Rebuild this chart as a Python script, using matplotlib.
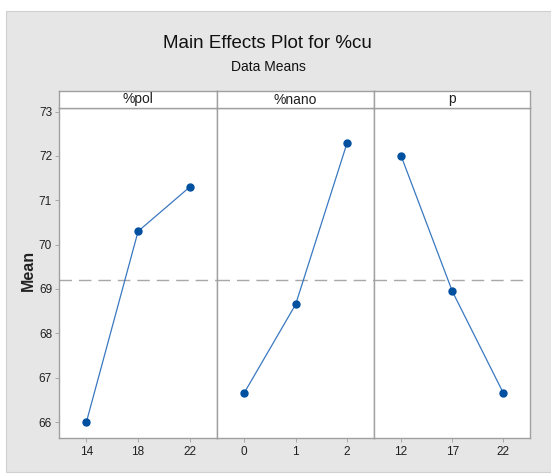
import matplotlib
matplotlib.use("Agg")
import matplotlib.pyplot as plt
from matplotlib.patches import Rectangle

# ---- data ----
factors = ["%pol", "%nano", "p"]
levels_pol = ["14", "18", "22"]
levels_nano = ["0", "1", "2"]
levels_p = ["12", "17", "22"]
means_pol = [66.0, 70.3, 71.3]
means_nano = [66.65, 68.65, 72.3]
means_p = [72.0, 68.95, 66.65]
grand_mean = 69.2
y_ticks = [66, 67, 68, 69, 70, 71, 72, 73]

levels = [levels_pol, levels_nano, levels_p]
means = [means_pol, means_nano, means_p]

W, H = 551, 475
fig = plt.figure(figsize=(W / 100, H / 100), dpi=100)
fig.patch.set_facecolor("white")
plt.rcParams['font.family'] = ['Liberation Sans Narrow', 'Liberation Sans', 'DejaVu Sans']

# gray background panel
fig.patches.append(Rectangle((6 / W, (H - 472) / H), (W - 6) / W, (472 - 11) / H,
                             transform=fig.transFigure, facecolor="#E6E6E6",
                             edgecolor="#D0D0D0", lw=0.8, zorder=-10))

def fx(px):
    return px / W

def fy(py):
    return (H - py) / H

plot_top, plot_bot = 108, 438
strip_top = 91
edges = [59, 216.7, 374, 530]
line_col = "#3A78C0"
mark_col = "#0050A0"
spine_col = "#A0A0A0"

ymin, ymax = 65.64, 73.08

for i in range(3):
    x0, x1 = edges[i], edges[i + 1]
    ax = fig.add_axes([fx(x0), fy(plot_bot), fx(x1 - x0), (plot_bot - plot_top) / H])
    ax.set_facecolor("white")
    xs = list(range(len(levels[i])))
    ax.axhline(grand_mean, color="#A8A8A8", lw=1.0, dashes=(9, 5), zorder=1)
    ax.plot(xs, means[i], color=line_col, lw=0.9, zorder=2)
    ax.plot(xs, means[i], 'o', color=mark_col, ms=5, zorder=3)
    ax.set_xlim(-0.53, 2.52)
    ax.set_ylim(ymin, ymax)
    ax.set_xticks(xs)
    ax.set_xticklabels(levels[i], fontsize=8.5, color="#202020")
    ax.tick_params(axis='x', length=3, width=0.6, color=spine_col, pad=3)
    if i == 0:
        ax.set_yticks(y_ticks)
        ax.set_yticklabels([str(v) for v in y_ticks], fontsize=8.5, color="#202020")
        ax.tick_params(axis='y', length=3, width=0.6, color=spine_col, pad=2)
    else:
        ax.set_yticks([])
    for s in ax.spines.values():
        s.set_color(spine_col)
        s.set_linewidth(1.0)
    # strip
    sax = fig.add_axes([fx(x0), fy(plot_top), fx(x1 - x0), (plot_top - strip_top) / H])
    sax.set_facecolor("white")
    sax.set_xticks([])
    sax.set_yticks([])
    for s in sax.spines.values():
        s.set_color(spine_col)
        s.set_linewidth(1.0)
    sax.text(0.5, 0.5, factors[i], ha="center", va="center", fontsize=10,
             color="#202020", transform=sax.transAxes)

fig.text(fx(267), fy(43), "Main Effects Plot for %cu", ha="center", va="center",
         fontsize=13.5, color="#111111")
fig.text(fx(268), fy(67), "Data Means", ha="center", va="center",
         fontsize=10, color="#111111")
fig.text(fx(28), fy(270), "Mean", ha="center", va="center", rotation=90,
         fontsize=11.5, fontweight="bold", color="#222222")

fig.savefig("out.png", dpi=100, facecolor=fig.get_facecolor())
